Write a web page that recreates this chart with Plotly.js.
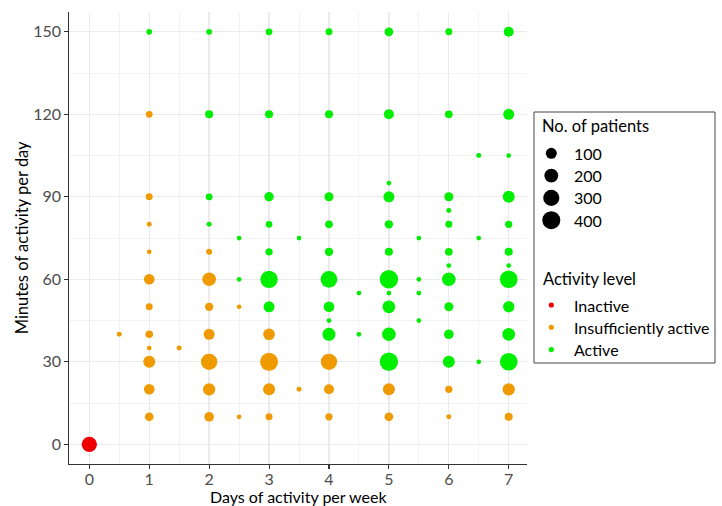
<!DOCTYPE html>
<html><head><meta charset="utf-8">
<script src="https://cdn.plot.ly/plotly-3.0.1.min.js"></script>
<style>html,body{margin:0;padding:0;background:#fff}#chart{width:722px;height:506px}</style>
</head><body><div id="chart"></div>
<script>
// ---- data ----
const levels = ["Inactive", "Insufficiently active", "Active"];
const levelColors = ["#EE0000", "#EE9A00", "#00EE00"];

const inactiveDays    = [0];
const inactiveMinutes = [0];
const inactiveCount   = [260];

const insuffDays    = [0.5, 1,1,1,1,1,1,1,1,1,1,1, 1.5, 2,2,2,2,2,2,2, 2.5,2.5, 3,3,3,3, 3.5, 4,4,4, 5,5, 6,6, 7,7];
const insuffMinutes = [40, 120,90,80,70,60,50,40,35,30,20,10, 35, 70,60,50,40,30,20,10, 50,10, 40,30,20,10, 20, 30,20,10, 20,10, 20,10, 20,10];
const insuffCount   = [2, 15,18,2,1,90,18,27,1,130,90,45, 2, 8,190,38,100,310,140,65, 1,1, 120,400,130,18, 2, 310,73,22, 130,45, 22,2, 140,33];

const activeDays    = [1, 2,2,2,2, 2.5,2.5, 3,3,3,3,3,3,3, 3.5,
                       4,4,4,4,4,4,4,4,4, 4.5,4.5,
                       5,5,5,5,5,5,5,5,5,5,5, 5.5,5.5,5.5,5.5,
                       6,6,6,6,6,6,6,6,6,6,6, 6.5,6.5,6.5,
                       7,7,7,7,7,7,7,7,7,7,7];
const activeMinutes = [150, 150,120,90,80, 75,60, 150,120,90,80,70,60,50, 75,
                       150,120,90,80,70,60,50,45,40, 55,40,
                       150,120,95,90,80,70,60,55,50,40,30, 75,60,55,45,
                       150,120,90,85,80,70,65,60,50,40,30, 105,75,30,
                       150,120,105,90,80,70,65,60,50,40,30];
const activeCount   = [6, 6,33,15,2, 1,1, 15,33,58,15,22,360,100, 1,
                       18,33,51,28,38,330,90,1,165, 1,1,
                       45,73,1,100,38,33,420,1,155,190,420, 1,1,1,1,
                       18,28,51,2,18,28,1,190,51,65,130, 2,1,1,
                       73,100,1,130,22,33,1,380,110,155,380];

const sizeBreaks = [100, 200, 300, 400];
const xTicks = [0, 1, 2, 3, 4, 5, 6, 7];
const yTicks = [0, 30, 60, 90, 120, 150];

const xTitle = "Days of activity per week";
const yTitle = "Minutes of activity per day";
const sizeTitle = "No. of patients";
const colorTitle = "Activity level";

// ---- size scale (ggplot-like: diameter linear in sqrt(n)) ----
const diam = n => 4 + 0.7 * Math.sqrt(n);

const FONT = "Lato, 'Open Sans', sans-serif";

function pts(x, y, n, color) {
  return {
    type: "scatter", mode: "markers", x: x, y: y,
    xaxis: "x", yaxis: "y",
    marker: { color: color, size: n.map(diam), sizemode: "diameter", line: { width: 0 }, opacity: 1 },
    hoverinfo: "skip", showlegend: false, cliponaxis: false
  };
}

const traces = [
  pts(inactiveDays, inactiveMinutes, inactiveCount, levelColors[0]),
  pts(insuffDays, insuffMinutes, insuffCount, levelColors[1]),
  pts(activeDays, activeMinutes, activeCount, levelColors[2])
];

// ---- legend drawn in its own hidden subplot ----
const LX = 17.3, TX = 37.7, sizeTop = 41.3, colTop = 193, gap = 22.3;
traces.push({
  type: "scatter", mode: "markers", xaxis: "x2", yaxis: "y2",
  x: sizeBreaks.map(() => LX), y: sizeBreaks.map((_, i) => sizeTop + i * gap),
  marker: { color: "#000", size: sizeBreaks.map(diam), sizemode: "diameter", line: { width: 0 }, opacity: 1 },
  hoverinfo: "skip", showlegend: false, cliponaxis: false
});
traces.push({
  type: "scatter", mode: "markers", xaxis: "x2", yaxis: "y2",
  x: levels.map(() => LX), y: levels.map((_, i) => colTop + i * gap),
  marker: { color: levelColors, size: 5.2, line: { width: 0 }, opacity: 1 },
  hoverinfo: "skip", showlegend: false, cliponaxis: false
});

const annotations = [];
annotations.push({ xref: "x2", yref: "y2", x: 6, y: 13.7, xanchor: "left", yanchor: "middle",
  text: sizeTitle, showarrow: false, font: { family: FONT, size: 16.5, color: "#000" } });
annotations.push({ xref: "x2", yref: "y2", x: 6.5, y: 167.3, xanchor: "left", yanchor: "middle",
  text: colorTitle, showarrow: false, font: { family: FONT, size: 16.5, color: "#000" } });
sizeBreaks.forEach((b, i) => annotations.push({ xref: "x2", yref: "y2", x: TX, y: sizeTop + i * gap,
  xanchor: "left", yanchor: "middle", text: String(b), showarrow: false,
  font: { family: FONT, size: 16, color: "#000" } }));
levels.forEach((l, i) => annotations.push({ xref: "x2", yref: "y2", x: TX, y: colTop + i * gap,
  xanchor: "left", yanchor: "middle", text: l, showarrow: false,
  font: { family: FONT, size: 16, color: "#000" } }));

const W = 722, H = 506;
const layout = {
  width: W, height: H,
  margin: { l: 0, r: 0, t: 0, b: 0 },
  paper_bgcolor: "#fff", plot_bgcolor: "#fff",
  font: { family: FONT, color: "#000" },
  showlegend: false,
  xaxis: {
    domain: [69.3 / W, 527.3 / W], range: [-0.334, 7.31], anchor: "y",
    tickvals: xTicks, ticktext: xTicks.map(String),
    ticks: "outside", ticklen: 4, tickwidth: 1.1, tickcolor: "#333",
    ticklabelstandoff: -3,
    showline: true, linecolor: "#333", linewidth: 1.1,
    showgrid: true, gridcolor: "#ebebeb", gridwidth: 1.3,
    minor: { tick0: 0.5, dtick: 1, showgrid: true, gridcolor: "#f0f0f0", gridwidth: 0.8, ticks: "" },
    zeroline: false, automargin: false,
    tickfont: { family: FONT, size: 16, color: "#4d4d4d" },
    title: { text: xTitle, standoff: 14, font: { family: FONT, size: 16, color: "#000" } }
  },
  yaxis: {
    domain: [1 - 463.7 / H, 1 - 12 / H], range: [-7.06, 157.2], anchor: "x",
    tickvals: yTicks, ticktext: yTicks.map(String),
    ticks: "outside", ticklen: 4, tickwidth: 1.1, tickcolor: "#333",
    showline: true, linecolor: "#333", linewidth: 1.1,
    showgrid: true, gridcolor: "#ebebeb", gridwidth: 1.3,
    minor: { tick0: 15, dtick: 30, showgrid: true, gridcolor: "#f0f0f0", gridwidth: 0.8, ticks: "" },
    zeroline: false, automargin: false,
    tickfont: { family: FONT, size: 16, color: "#4d4d4d" },
    title: { text: yTitle, standoff: 0, font: { family: FONT, size: 16.5, color: "#000" } }
  },
  xaxis2: { domain: [534 / W, 715 / W], range: [0, 181], anchor: "y2", visible: false, fixedrange: true },
  yaxis2: { domain: [1 - 363 / H, 1 - 112 / H], range: [251, 0], anchor: "x2", visible: false, fixedrange: true },
  shapes: [{ type: "rect", xref: "x2 domain", yref: "y2 domain", x0: 0, x1: 1, y0: 0, y1: 1,
    line: { color: "#444", width: 1 }, fillcolor: "rgba(0,0,0,0)", layer: "below" }],
  annotations: annotations
};

Plotly.newPlot("chart", traces, layout, { displayModeBar: false, staticPlot: true });
</script>
</body></html>
